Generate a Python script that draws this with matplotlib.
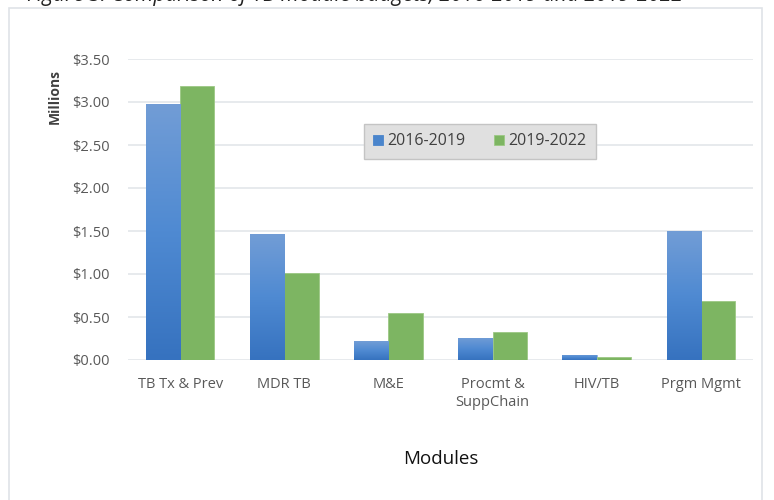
import matplotlib.pyplot as plt
import numpy as np
from matplotlib.colors import LinearSegmentedColormap

# module budgets, millions USD
modules = ["TB Tx & Prev", "MDR TB", "M&E", "Procmt &\nSuppChain", "HIV/TB", "Prgm Mgmt"]
budget_2016_2019 = [2.98, 1.46, 0.22, 0.26, 0.06, 1.50]
budget_2019_2022 = [3.19, 1.01, 0.55, 0.32, 0.04, 0.69]
series_names = ["2016-2019", "2019-2022"]
yticks = [0, 0.5, 1.0, 1.5, 2.0, 2.5, 3.0, 3.5]

plt.rcParams['font.family'] = ['Open Sans', 'DejaVu Sans']
txt = '#595959'

fig = plt.figure(figsize=(7.74, 5.0), dpi=100)
# light frame around the chart area
fig.patches.append(plt.Rectangle((9/774, -0.1), 753/774, 1 - 8/500 + 0.1,
                                 transform=fig.transFigure, fill=False,
                                 edgecolor='#dfe3e8', lw=1.2))
# caption cut off at the top of the screenshot
fig.text(0.035, 1.008, "Figure 3: Comparison of TB module budgets, 2016-2019 and 2019-2022",
         fontsize=15, style='italic', color='#222222', va='center', ha='left')

ax = fig.add_axes([128/774, 1 - 360/500, 625/774, 301/500])
x = np.arange(len(modules))
w = 0.33
b1 = ax.bar(x - w/2, budget_2016_2019, w, color='#4a85cc', edgecolor='#8fb0dd',
            lw=0.6, label=series_names[0], zorder=3)
b2 = ax.bar(x + w/2, budget_2019_2022, w, color='#7db562', edgecolor='#9cc884',
            lw=0.6, label=series_names[1], zorder=3)

# gradient fill on the blue bars
cmap = LinearSegmentedColormap.from_list('b', ['#3672bf', '#4f8ad2', '#729dd6'])
grad = np.linspace(0, 1, 256).reshape(-1, 1)
for r in b1:
    x0, y0 = r.get_x(), r.get_y()
    im = ax.imshow(grad, extent=(x0, x0 + r.get_width(), y0, y0 + r.get_height()),
                   cmap=cmap, aspect='auto', origin='lower', zorder=3.5)
    im.set_clip_path(r)

ax.set_xlim(-0.5, len(modules) - 0.5)
ax.set_ylim(0, 3.5)
ax.set_yticks(yticks)
ax.set_yticklabels([f"${v:.2f}" for v in yticks])
ax.set_xticks(x)
ax.set_xticklabels(modules, linespacing=1.3)
ax.tick_params(length=0, labelsize=10.5, colors=txt)
ax.tick_params(axis='y', pad=13)
ax.tick_params(axis='x', pad=12)
for lab in ax.get_xticklabels():
    lab.set_va('top')
ax.grid(axis='y', color='#e3e6ea', lw=1.2, zorder=0)
for s in ax.spines.values():
    s.set_visible(False)

ax.set_ylabel("Millions", fontsize=10, fontweight='bold', color='#404040',
              va='center')
ax.yaxis.set_label_coords(55/774, 1 - 96/500, transform=fig.transFigure)
ax.set_xlabel("Modules", fontsize=13.5, color='#111111', labelpad=29)

leg = ax.legend(loc='center', bbox_to_anchor=(480/774, 1 - 141.5/500),
                bbox_transform=fig.transFigure, ncol=2, fontsize=11.5,
                frameon=True, fancybox=False, shadow=False,
                handlelength=0.6, handleheight=0.6, handletextpad=0.3,
                columnspacing=1.8, borderpad=0.6, labelcolor='#404040')
leg.get_frame().set_facecolor('#e0e0e0')
leg.get_frame().set_edgecolor('#c4c4c4')
leg.get_frame().set_alpha(1)
leg.legend_handles[0].set_color('#4a85cc')

fig.savefig("out.png", dpi=100)
